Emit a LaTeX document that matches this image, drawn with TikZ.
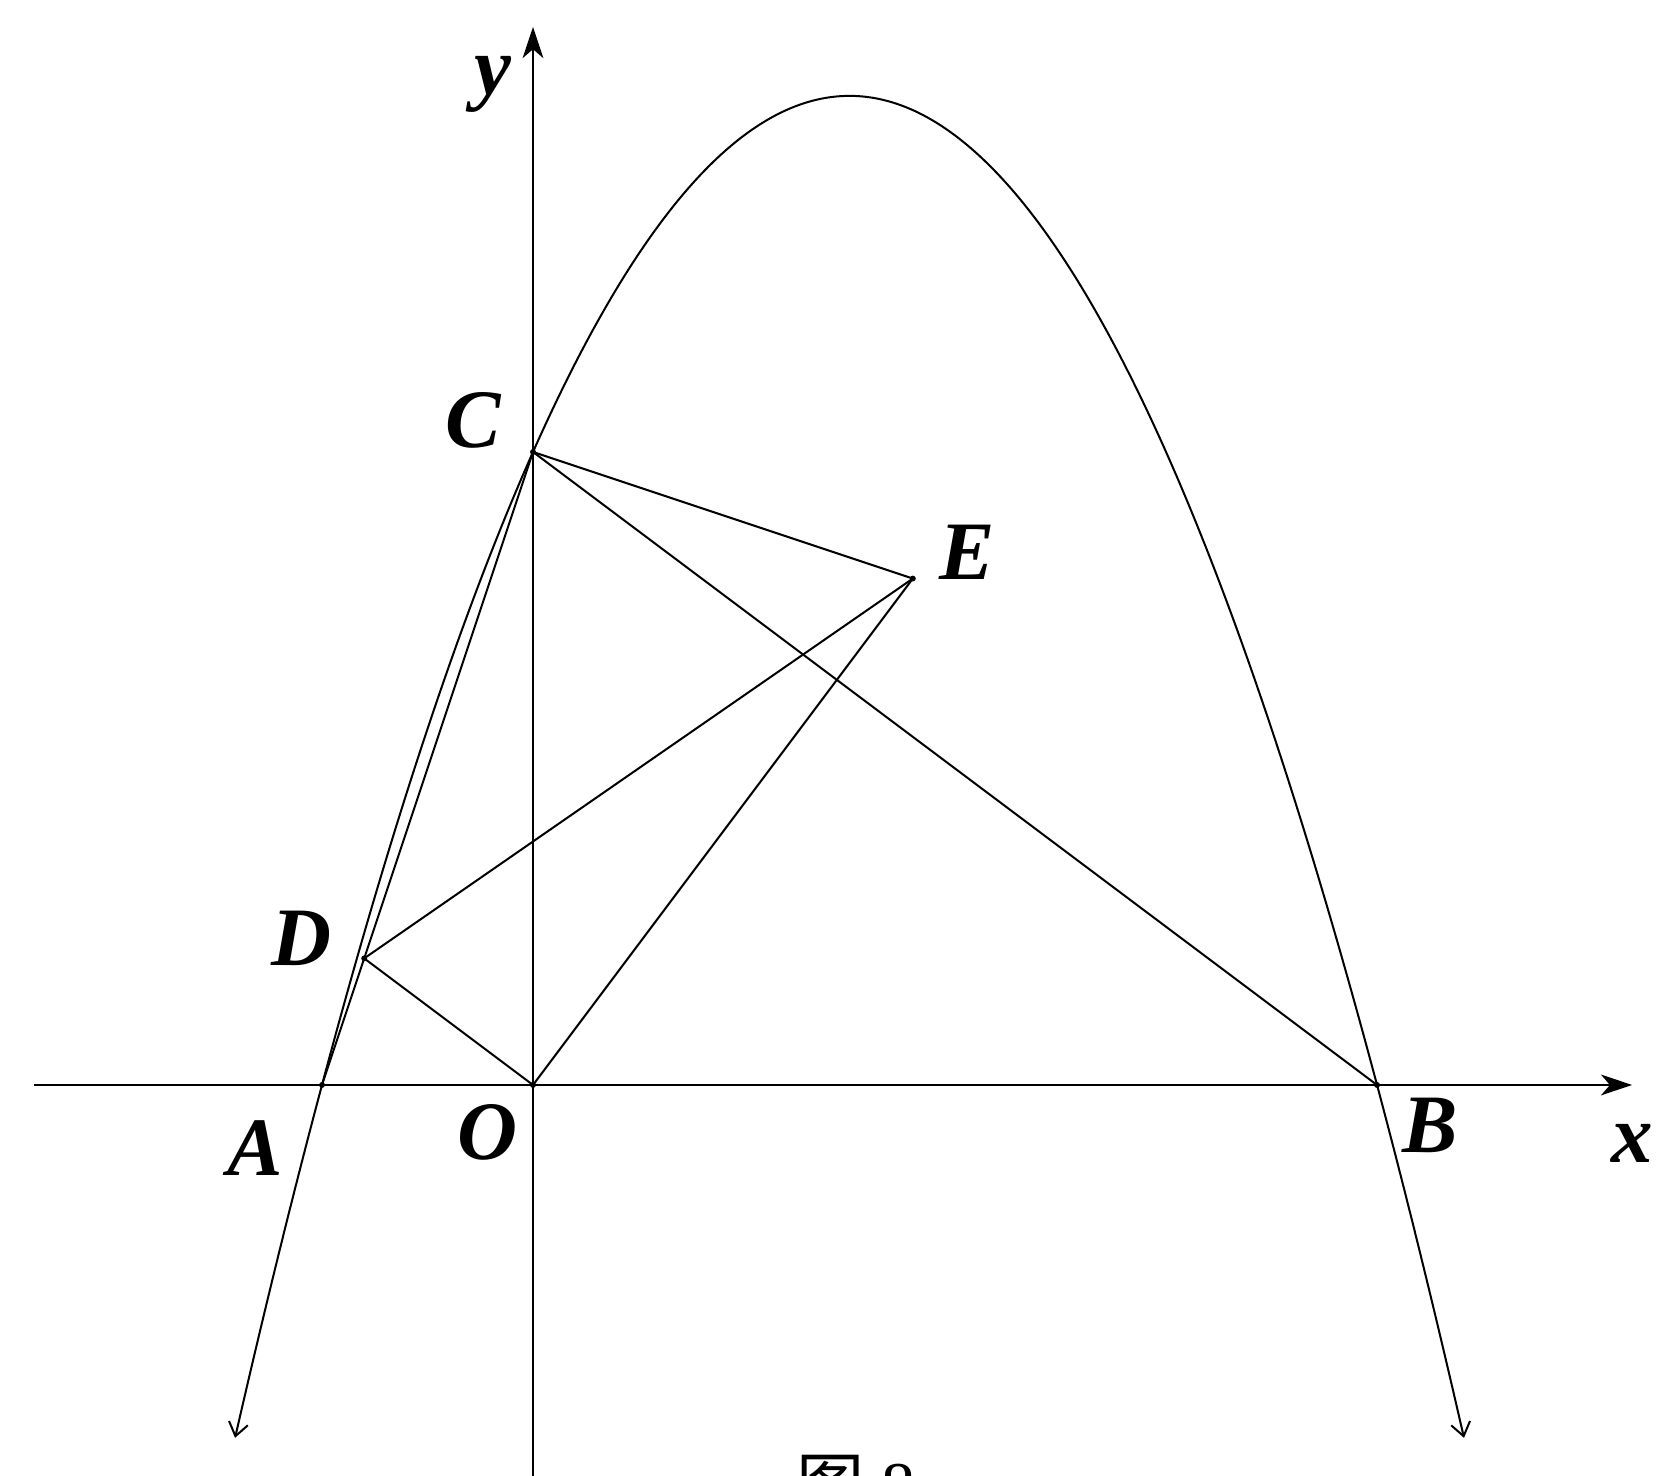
\documentclass[tikz,border=0pt]{standalone}
\usepackage{fontspec}
\setmainfont{Liberation Serif}
\newfontfamily\lbf{Liberation Serif Bold Italic}
\newfontfamily\cjk{Noto Sans CJK SC}
\usetikzlibrary{arrows.meta}
\begin{document}
\begin{tikzpicture}[x=1cm,y=1cm,
  ln/.style={line width=0.27pt},
  axis/.style={line width=0.27pt, -{Stealth[length=4.2pt,width=2.8pt,inset=1.2pt]}},
  lbl/.style={font=\fontsize{11.2}{11.2}\selectfont\lbf, inner sep=0pt},
  dot/.style={circle, fill=black, inner sep=0pt, minimum size=0.8pt}]
\useasboundingbox (-2.526,-1.853) rectangle (5.374,5.142);
% points
\coordinate (O) at (0,0);
\coordinate (A) at (-1,0);
\coordinate (B) at (4,0);
\coordinate (C) at (0,3);
\coordinate (D) at (-0.8,0.6);
\coordinate (E) at (1.8,2.4);
\coordinate (xs) at (-2.365,0);
\coordinate (xe) at (5.209,0);
\coordinate (ys) at (0,-1.9);
\coordinate (ye) at (0,5.014);
% axes
\draw[axis] (xs) -- (xe);
\draw[axis] (ys) -- (ye);
% parabola y = -3/4 (x+1)(x-4)
\draw[ln, {Straight Barb[length=1.8pt,width=2.6pt]}-{Straight Barb[length=1.8pt,width=2.6pt]}]
  plot[domain=-1.412:4.412, samples=200, smooth] (\x, {-0.75*(\x+1)*(\x-4)});
% segments
\draw[ln] (A) -- (C);
\draw[ln] (C) -- (E);
\draw[ln] (C) -- (B);
\draw[ln] (D) -- (E);
\draw[ln] (D) -- (O);
\draw[ln] (O) -- (E);
% dots
\foreach \p in {O,A,B,C,D,E} \node[dot] (d\p) at (\p) {};
% labels
\node[lbl] (lA) at (-1.318,-0.30) {A};
\node[lbl] (lB) at (4.25,-0.19) {B};
\node[lbl] (lC) at (-0.284,3.15) {C};
\node[lbl] (lD) at (-1.095,0.697) {D};
\node[lbl] (lE) at (2.057,2.526) {E};
\node[lbl] (lO) at (-0.218,-0.227) {O};
\node[lbl] (lx) at (5.21,-0.275) {x};
\node[lbl] (ly) at (-0.19,4.74) {y};
% caption (cut off at the bottom)
\node[anchor=base, inner sep=0pt, font=\fontsize{9.2}{9.2}\selectfont] (cap) at (1.53,-2.01) {{\cjk 图} 8};
\end{tikzpicture}
\end{document}
